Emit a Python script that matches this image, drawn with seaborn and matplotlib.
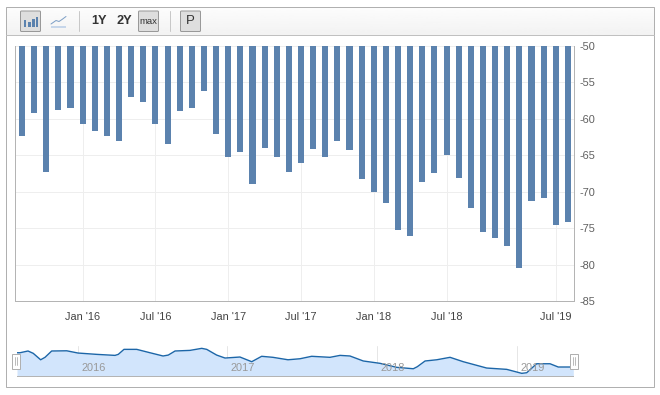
import numpy as np
import matplotlib
matplotlib.use("Agg")
import matplotlib.pyplot as plt
from matplotlib.patches import Rectangle, FancyBboxPatch
import seaborn as sns

# monthly values (bars)
months = list(range(46))
values = [-62.3, -59.2, -67.25, -58.8, -58.5, -60.7, -61.65, -62.3, -63.0, -57.0,
          -57.7, -60.7, -63.4, -58.9, -58.5, -56.2, -62.1, -65.3, -64.5, -68.9,
          -64.0, -65.2, -67.25, -66.0, -64.1, -65.2, -63.0, -64.25, -68.2, -70.1,
          -71.6, -75.3, -76.0, -68.6, -67.4, -64.9, -68.1, -72.2, -75.5, -76.3,
          -77.4, -80.4, -71.3, -70.9, -74.6, -74.2]
tick_pos = [5, 11, 17, 23, 29, 35, 44]
tick_labels = ["Jan '16", "Jul '16", "Jan '17", "Jul '17", "Jan '18", "Jul '18", "Jul '19"]
y_ticks = [-50, -55, -60, -65, -70, -75, -80, -85]

# navigator line at the bottom
nav_x = [0, .25, .91, 1.34, 1.95, 2.31, 2.86, 4.10, 5.03, 6.57, 8.08, 8.35, 8.82, 9.87,
         10.96, 12.04, 12.47, 13.03, 14.26, 15.23, 15.64, 16.46, 17.15, 18.38, 19.35,
         20.17, 21.10, 22.34, 23.33, 24.29, 25.80, 26.63, 27.45, 28.55, 29.93, 31.30,
         32.67, 33.0, 33.64, 34.60, 35.70, 36.79, 38.72, 40.37, 41.61, 42.02, 42.84,
         43.94, 44.62, 45.53, 45.86]
nav_y = [-60.5, -60.5, -58.8, -61.1, -67.4, -65, -58.8, -58.6, -60.8, -62.1, -63.1, -62.1,
         -57.2, -57.2, -60.5, -63.7, -62.8, -58.8, -58.2, -56.2, -57.2, -62.8, -65.7,
         -64.7, -69.3, -64, -65, -67.4, -66.4, -64, -65, -63.1, -63.7, -68.6, -70.9,
         -74.8, -76.2, -74.2, -68.6, -67.4, -65, -69.3, -75.5, -76.8, -80.7, -80.1,
         -71.3, -71.3, -74.5, -74.5, -74.5]
nav_tick_pos = [5.03, 17.31, 29.65, 41.2]
nav_tick_labels = ["2016", "2017", "2018", "2019"]

sns.set_style("white")
plt.rcParams['font.family'] = ['Liberation Sans', 'DejaVu Sans']
plt.rcParams['axes.unicode_minus'] = False

W, H = 660, 395
PX = 0.72  # one pixel in points
fig = plt.figure(figsize=(W / 100, H / 100), dpi=100, facecolor='white')


def px_axes(left, top, right, bottom, **kw):
    return fig.add_axes([left / W, 1 - bottom / H, (right - left) / W, (bottom - top) / H], **kw)


# --- main chart ---
ax = px_axes(15.5, 45.7, 574.3, 301.3)
sns.barplot(x=months, y=values, color='#5b82ae', saturation=1, width=0.5, linewidth=0, ax=ax, zorder=3)
ax.set_xlim(-0.536, 45.53)
ax.set_ylim(-85, -50)
ax.set_yticks(y_ticks)
ax.set_xticks(tick_pos, tick_labels)
ax.yaxis.tick_right()
ax.grid(True, color='#eeeeee', lw=PX)
ax.set_axisbelow(True)
ax.tick_params(axis='x', length=0, pad=7.5, labelsize=7.9, labelcolor='#444444')
ax.tick_params(axis='y', length=0, pad=3.5, labelsize=7.9, labelcolor='#606060')
ax.set_xlabel('')
ax.set_ylabel('')
ax.spines['top'].set_visible(False)
for s in ['left', 'right', 'bottom']:
    ax.spines[s].set_color('#b4b4b4')
    ax.spines[s].set_linewidth(PX)

# --- navigator ---
nav = px_axes(17, 346, 573.3, 376.3)
nav.fill_between(nav_x, nav_y, -83.6, color='#d2e5fc', lw=0, zorder=1)
sns.lineplot(x=nav_x, y=nav_y, color='#1c66a8', lw=1.0, errorbar=None, ax=nav, zorder=2)
nav.set_xlim(0, 45.86)
nav.set_ylim(-83.6, -53.9)
nav.set_yticks([])
nav.set_xticks(nav_tick_pos, [''] * 4)
nav.grid(True, axis='x', color='#e6e6e6', lw=PX)
nav.set_axisbelow(True)
nav.tick_params(length=0)
nav.set_xlabel('')
nav.set_ylabel('')
nav.patch.set_alpha(0)
for s in ['top', 'left', 'right']:
    nav.spines[s].set_visible(False)
nav.spines['bottom'].set_color('#b4b4b4')
nav.spines['bottom'].set_linewidth(PX)
for p, lab in zip(nav_tick_pos, nav_tick_labels):
    nav.annotate(lab, (p, -83.6), xytext=(11.5, 5.8), textcoords='offset points', ha='center',
                 va='center', fontsize=7.9, color='#999999', zorder=5)

# --- frame, toolbar, buttons ---
ov = fig.add_axes([0, 0, 1, 1], zorder=10)
ov.patch.set_alpha(0)
grad = np.linspace(0.99, 0.95, 30).reshape(-1, 1)
ov.imshow(grad, extent=(6, 653.5, 35, 7), cmap='gray', vmin=0, vmax=1, aspect='auto', zorder=0)
ov.set_xlim(0, W)
ov.set_ylim(H, 0)
ov.axis('off')
ov.add_patch(Rectangle((5.5, 6.5), 648.5, 380.8, fill=False, ec='#b0b0b0', lw=PX))
ov.plot([5.5, 654], [35.3, 35.3], color='#c0c0c0', lw=PX)
for x in [79.3, 169.5]:
    ov.plot([x, x], [11, 31], color='#c8c8c8', lw=PX)


def button(x0, x1):
    ov.add_patch(FancyBboxPatch((x0 + 1, 12), x1 - x0 - 2, 18.5, boxstyle='round,pad=1',
                                fc='#dedede', ec='#999999', lw=PX, zorder=2))


button(20.5, 40.5)
button(138.5, 158.5)
button(180.5, 200.5)
# bar icon
for x0, top in [(23.5, 20), (28, 22), (32, 18.5), (35.5, 17)]:
    ov.add_patch(Rectangle((x0, top), 2.7, 26.5 - top, fc='#5b82ae', lw=0, zorder=3))
# line icon
ov.plot([51, 56, 59, 62, 66], [24, 20.5, 21.5, 19.5, 16.5], color='#7d9fc6', lw=PX, zorder=3)
ov.add_patch(Rectangle((51, 25.5), 15, 2, fc='#c6d6ea', lw=0, zorder=3))
ov.text(99.5, 21, '1Y', ha='center', va='center', fontsize=9.2, fontweight='bold', color='#333333', zorder=4)
ov.text(124, 21, '2Y', ha='center', va='center', fontsize=9.2, fontweight='bold', color='#333333', zorder=4)
ov.text(148.5, 21, 'max', ha='center', va='center', fontsize=6.8, color='#333333', zorder=4)
ov.text(190.5, 20.5, 'P', ha='center', va='center', fontsize=9.5, color='#333333', zorder=4)

# navigator handles
for x0 in [11.5, 569.5]:
    ov.add_patch(Rectangle((x0, 354), 8, 14.5, fc='white', ec='#b0b0b0', lw=PX, zorder=5))
    for dx in [3, 5]:
        ov.plot([x0 + dx, x0 + dx], [357, 365], color='#b0b0b0', lw=0.6, zorder=6)

fig.savefig('out.png', dpi=100)
